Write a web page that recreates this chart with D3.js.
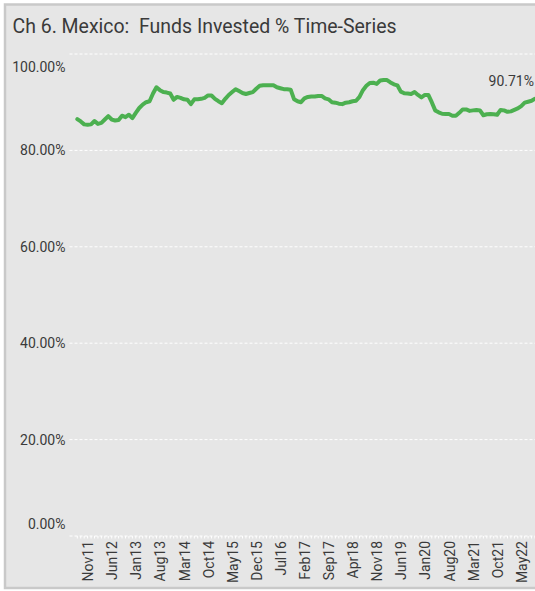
<!DOCTYPE html>
<html><head><meta charset="utf-8">
<script src="https://cdn.jsdelivr.net/npm/d3@7"></script>
<style>
html,body{margin:0;padding:0;background:#fff;}
svg{display:block;}
</style></head>
<body>
<svg id="c" width="535" height="591"></svg>
<script>
const startMonth = "2011-08";
const values = [
86.5,86.0,85.4,85.3,85.4,86.1,85.5,85.7,86.4,87.1,
86.4,86.2,86.3,87.2,86.9,87.4,86.7,87.8,88.8,89.5,
90.0,90.2,91.8,93.1,92.5,92.1,92.0,91.8,90.5,91.1,
90.9,90.6,90.5,89.6,90.6,90.6,90.7,90.9,91.4,91.4,
90.7,90.2,89.8,90.7,91.5,92.1,92.7,92.3,91.9,91.7,
91.9,92.1,92.8,93.4,93.5,93.5,93.5,93.5,93.1,92.9,
92.7,92.7,92.6,90.6,90.2,90.0,90.8,91.1,91.2,91.2,
91.3,91.3,90.8,90.6,90.0,89.9,89.7,89.6,89.9,90.0,
90.2,90.3,91.1,92.5,93.4,94.0,94.05,93.8,94.5,94.6,
94.6,94.1,93.7,93.5,92.2,91.85,91.8,91.7,92.1,91.5,
91.0,91.5,91.5,90.0,88.3,87.9,87.6,87.55,87.55,87.2,
87.2,87.8,88.5,88.5,88.2,88.3,88.4,88.3,87.3,87.5,
87.55,87.5,87.4,88.4,88.3,88.0,88.1,88.4,88.7,89.2,
89.9,90.1,90.3,90.71];
const yTicks = [0,20,40,60,80,100];
const xTickLabels = ["Nov11","Jun12","Jan13","Aug13","Mar14","Oct14","May15","Dec15","Jul16","Feb17","Sep17","Apr18","Nov18","Jun19","Jan20","Aug20","Mar21","Oct21","May22"];
const title = "Ch 6. Mexico:  Funds Invested % Time-Series";
const lastLabel = "90.71%";

const fmtLabel = d3.timeFormat("%b%y");
const parse = d3.timeParse("%Y-%m");
const t0 = parse(startMonth);
const months = values.map((v,i)=>d3.timeMonth.offset(t0,i));
const data = months.map((m,i)=>({m, key: fmtLabel(m), v: values[i]}));

const svg = d3.select("#c");
// frame
svg.append("rect").attr("x",5).attr("y",4.5).attr("width",540).attr("height",583.5)
  .attr("fill","#e6e6e6").attr("stroke","#c9c9c9").attr("stroke-width",2.5);

svg.append("text").attr("x",12.5).attr("y",33).text(title)
  .style("white-space","pre")
  .attr("font-family","Roboto, 'Noto Sans', sans-serif").attr("font-size",19.5)
  .attr("fill","#3a3a3a").attr("textLength",384).attr("lengthAdjust","spacingAndGlyphs");

const x = d3.scalePoint().domain(data.map(d=>d.key)).range([77.3,535]);
const y = d3.scaleLinear().domain([0,100]).range([536,54]);

// grid
const gridG = svg.append("g");
gridG.selectAll("line").data(yTicks).join("line")
  .attr("x1",69.5).attr("x2",535).attr("y1",d=>y(d)).attr("y2",d=>y(d))
  .attr("stroke","#ffffff").attr("stroke-width",1).attr("stroke-dasharray","3,2");

// y labels
const yFmt = d3.format(".2f");
gridG.selectAll("text").data(yTicks).join("text")
  .attr("x",65.5)
  .attr("y",d=> d===100 ? y(d)+13.3 : (d===0 ? y(d)-11.7 : y(d)))
  .attr("dy","0.35em").attr("text-anchor","end")
  .attr("font-family","Roboto, 'Noto Sans', sans-serif").attr("font-size",14)
  .attr("fill","#3a3a3a").text(d=>yFmt(d)+"%");

// monthly minor ticks
svg.append("g").selectAll("line").data(data).join("line")
  .attr("x1",d=>x(d.key)).attr("x2",d=>x(d.key))
  .attr("y1",y(0)).attr("y2",y(0)+2.5)
  .attr("stroke","#ffffff").attr("stroke-width",1);

// x labels
const xAxis = d3.axisBottom(x).tickValues(xTickLabels).tickSize(0).tickPadding(0);
const xg = svg.append("g").attr("transform",`translate(0,${y(0)})`).call(xAxis);
xg.select(".domain").remove();
xg.selectAll("text")
  .attr("font-family","Roboto, 'Noto Sans', sans-serif").attr("font-size",14)
  .attr("fill","#3a3a3a")
  .attr("transform","rotate(-90)")
  .attr("text-anchor","end").attr("x",-5).attr("y",0).attr("dy","0.36em");

// line
const line = d3.line().x(d=>x(d.key)).y(d=>y(d.v)).curve(d3.curveLinear);
svg.append("path").datum(data).attr("d",line)
  .attr("fill","none").attr("stroke","#4cb050").attr("stroke-width",4)
  .attr("stroke-linejoin","round").attr("stroke-linecap","round");

// last value label
const last = data[data.length-1];
svg.append("text").attr("x",x(last.key)-1).attr("y",y(last.v)-12.5)
  .attr("text-anchor","end")
  .attr("font-family","Roboto, 'Noto Sans', sans-serif").attr("font-size",14)
  .attr("fill","#3a3a3a").text(lastLabel);
</script>
</body></html>
